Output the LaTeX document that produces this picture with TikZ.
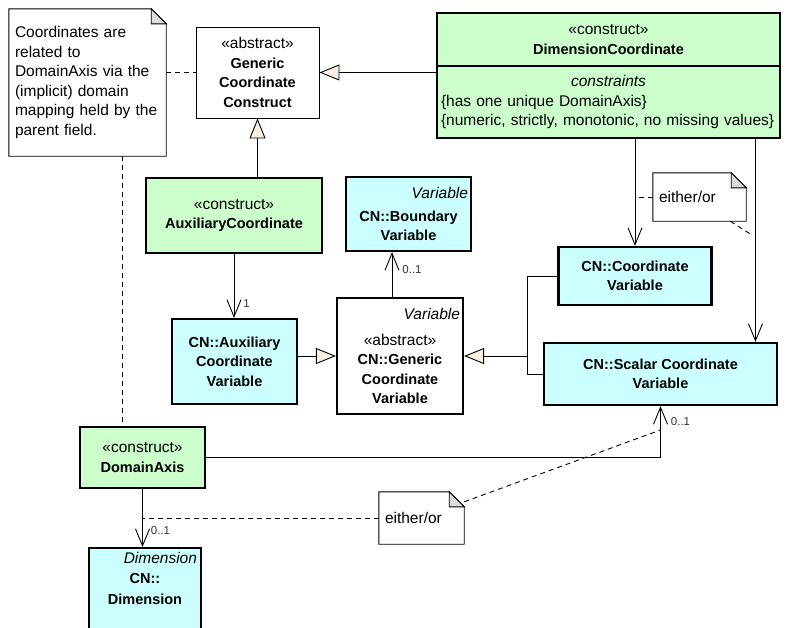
\documentclass[tikz,border=0pt]{standalone}
\usepackage{fontspec}
\setmainfont{Liberation Sans}
\usepackage{xcolor}
\usepackage{tikz}
\usetikzlibrary{arrows.meta}

\definecolor{constructgreen}{RGB}{204,255,204}
\definecolor{cncyan}{RGB}{204,255,255}
\definecolor{genfill}{RGB}{250,240,225}
\definecolor{foldgray}{RGB}{220,220,220}

\newcommand{\stereo}[1]{{\mdseries\fontsize{15.5}{19.5}\selectfont «#1»}}
\newcommand{\tagline}[1]{\makebox[\linewidth][r]{\mdseries\itshape\fontsize{15.5}{19.5}\selectfont #1}}

\begin{document}
\begin{tikzpicture}[x=1pt, y=-1pt,
  box/.style={draw, line width=2.2pt, align=center, inner sep=1pt, font=\fontsize{14.5}{19.5}\selectfont\bfseries},
  construct/.style={box, fill=constructgreen},
  cnbox/.style={box, fill=cncyan},
  notebox/.style={fill=white, inner sep=6pt, align=left, font=\fontsize{15.5}{19.6}\selectfont},
  gen/.style={-{Triangle[length=20pt, width=16pt, fill=genfill]}, line width=0.9pt},
  assoc/.style={-{Straight Barb[length=17pt, width=14pt]}, line width=0.9pt},
  link/.style={dash pattern=on 5pt off 4pt, line width=0.9pt},
  mult/.style={font=\fontsize{11.5}{13}\selectfont, text=black!80, inner sep=2pt}]

\useasboundingbox (0,0) rectangle (790,627);
\clip (0,0) rectangle (790,627);

\node[box, line width=0.9pt, fill=white, minimum width=123pt, minimum height=91pt] (gcc) at (257.5,72.5) {\stereo{abstract}\\Generic\\Coordinate\\Construct};
\node[construct, minimum width=343pt, minimum height=53pt] (dimc) at (608.5,39.5) {\stereo{construct}\\DimensionCoordinate};
\node[construct, minimum width=343pt, minimum height=72pt, text width=335pt, align=left, font=\fontsize{15.5}{19.6}\selectfont] (dimcx) at (608.5,102) {\makebox[\linewidth]{\itshape constraints}\\\{has one unique DomainAxis\}\\\{numeric, strictly, monotonic, no missing values\}};

\node[construct, minimum width=176pt, minimum height=75pt] (auxc) at (234,215.5) {\stereo{construct}\\AuxiliaryCoordinate};
\node[cnbox, minimum width=125pt, minimum height=74pt, text width=119pt] (bnd) at (408.5,214) {\tagline{Variable}\\[3pt]CN::Boundary\\Variable};

\node[cnbox, minimum width=125pt, minimum height=85pt] (cnaux) at (234.5,361.5) {CN::Auxiliary\\Coordinate\\Variable};
\node[box, fill=white, minimum width=126pt, minimum height=116pt, text width=120pt] (gcv) at (400,356) {\tagline{Variable}\\[6pt]\stereo{abstract}\\CN::Generic\\Coordinate\\Variable};
\node[cnbox, minimum width=153pt, minimum height=58pt] (cv) at (635,276) {CN::Coordinate\\Variable};
\node[cnbox, minimum width=233pt, minimum height=62pt] (scv) at (660.5,374) {CN::Scalar Coordinate\\Variable};

\node[construct, minimum width=125pt, minimum height=61pt] (da) at (142.5,457.5) {\stereo{construct}\\DomainAxis};
\node[cnbox, text width=104pt, anchor=north, inner xsep=4pt, inner ysep=4pt] (dim) at (145,547) {\tagline{Dimension}\\[1pt]CN::\\[1pt]Dimension\\[24pt]\mbox{}};

\node[notebox, minimum width=157pt, minimum height=147pt, text width=145pt] (cnote) at (87.5,82.5) {Coordinates are\\related to\\DomainAxis via the\\(implicit) domain\\mapping held by the\\parent field.};
\node[notebox, minimum width=93pt, minimum height=48pt, text width=81pt] (orcv) at (699.5,197) {either/or};
\node[notebox, minimum width=85pt, minimum height=52pt, text width=73pt] (orda) at (421.5,518) {either/or};

\foreach \n in {cnote, orcv, orda} {
  \draw[line width=0.9pt] (\n.north west) -- ([xshift=-15pt]\n.north east) -- ([yshift=-15pt]\n.north east) -- (\n.south east) -- (\n.south west) -- cycle;
  \filldraw[fill=foldgray, line width=0.9pt] ([xshift=-15pt]\n.north east) -- ([xshift=-15pt, yshift=-15pt]\n.north east) -- ([yshift=-15pt]\n.north east) -- cycle;
}

\coordinate (cnlink) at ([xshift=-20pt]da.north);
\coordinate (bndlink) at ([xshift=-8pt]gcv.north);
\coordinate (gvjoin) at ([xshift=63pt]gcv.east);
\coordinate (scvlink) at ([xshift=95pt]scv.north);
\coordinate (orcvend) at (752,235);
\coordinate (orscv) at (660.5,430);

\draw[link] (cnote.east |- gcc.west) -- (gcc.west);
\draw[link] (cnote.south -| cnlink) -- (cnlink);

\draw[gen] (dimcx.west |- gcc.east) -- (gcc.east);
\draw[gen] (auxc.north -| gcc.south) -- (gcc.south);
\draw[assoc] (auxc.south) -- node[mult, pos=0.78, right=7pt] {1} (auxc.south |- cnaux.north);

\draw[gen] (gcv.west -| cnaux.east) -- (gcv.west);
\draw[assoc] (bndlink) -- node[mult, pos=0.62, right=8pt] {0..1} (bndlink |- bnd.south);

\draw[line width=0.9pt] (cv.west) -| (gvjoin) |- (scv.west);
\draw[gen] (gvjoin) -- (gcv.east);

\draw[assoc] (dimcx.south -| cv.north) -- (cv.north);
\draw[assoc] (dimcx.south -| scvlink) -- (scvlink);
\draw[link] (orcv.west) -- (orcv.west -| cv.north);
\draw[link] ([xshift=-16pt]orcv.south east) -- (orcvend);

\draw[assoc] (da.east) -| node[mult, pos=0.85, right=8pt] {0..1} (scv.south);
\draw[link] ([yshift=-10pt]orda.north east) -- (orscv);

\draw[assoc] (da.south) -- node[mult, pos=0.71, right=6pt] {0..1} (da.south |- dim.north);
\draw[link] (orda.west) -- (orda.west -| da.south);

\end{tikzpicture}
\end{document}
